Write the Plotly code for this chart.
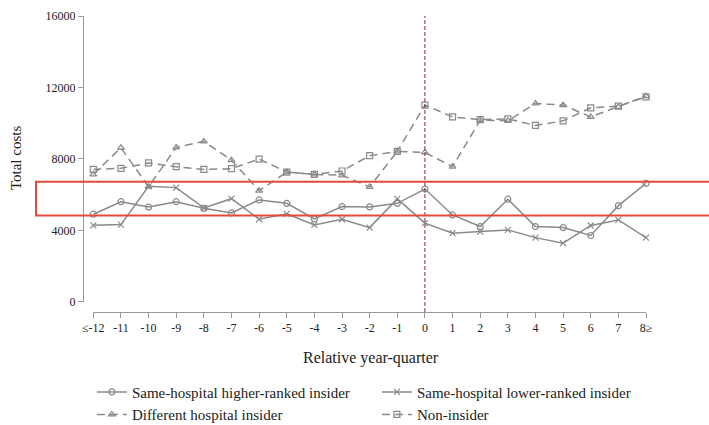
import plotly.graph_objects as go

# ---- data ----
quarters = list(range(-12, 9))
tick_labels = ["≤-12", "-11", "-10", "-9", "-8", "-7", "-6", "-5", "-4", "-3", "-2", "-1",
               "0", "1", "2", "3", "4", "5", "6", "7", "8≥"]

higher_ranked = [4900, 5600, 5300, 5600, 5230, 4970, 5700, 5510, 4640, 5330, 5310, 5510,
                 6310, 4860, 4210, 5740, 4210, 4150, 3710, 5380, 6630]
lower_ranked = [4280, 4320, 6460, 6390, 5250, 5770, 4620, 4920, 4300, 4620, 4150, 5760,
                4400, 3840, 3930, 4020, 3590, 3280, 4270, 4580, 3590]
different_hosp = [7130, 8620, 6440, 8640, 8980, 7930, 6220, 7260, 7130, 7080, 6430, 8420,
                  8360, 7560, 10170, 10130, 11100, 11010, 10350, 10910, 11510]
non_insider = [7410, 7470, 7770, 7560, 7410, 7450, 7990, 7260, 7130, 7320, 8180, 8420,
               11010, 10350, 10200, 10240, 9870, 10130, 10860, 10950, 11470]

y_ticks = [0, 4000, 8000, 12000, 16000]
y_tick_labels = ["0", "4000", "8000", "12000", "16000"]

GRAY = "#8a8a8a"
FONT = "Liberation Serif"
TXT = "#222"

fig = go.Figure()

series = [
    ("Same-hospital higher-ranked insider", higher_ranked, "circle-open", "solid", "legend"),
    ("Different hospital insider", different_hosp, "triangle-up-open", "dash", "legend"),
    ("Same-hospital lower-ranked insider", lower_ranked, "x-thin-open", "solid", "legend2"),
    ("Non-insider", non_insider, "square-open", "dash", "legend2"),
]
for name, vals, sym, dash, lg in series:
    fig.add_trace(go.Scatter(
        x=quarters, y=vals, name=name, mode="lines+markers",
        line=dict(color=GRAY, width=1.5, dash="8px,5px" if dash == "dash" else "solid"),
        marker=dict(symbol=sym, size=6, color=GRAY, line=dict(color=GRAY, width=1.2)),
        cliponaxis=False, legend=lg,
    ))

# vertical reference line at 0
fig.add_shape(type="line", xref="x", yref="paper", x0=0, x1=0, y0=0, y1=1,
              line=dict(color="#9b1b3c", width=1, dash="4px,2px"))

# red highlight rectangle
fig.add_shape(type="rect", xref="paper", yref="paper", x0=-0.0835, x1=1.12,
              y0=0.3257, y1=0.4403, line=dict(color="#e8483a", width=2),
              fillcolor="rgba(0,0,0,0)")

fig.update_layout(
    width=709, height=425,
    margin=dict(l=83, r=63, t=16, b=113, autoexpand=False),
    paper_bgcolor="white", plot_bgcolor="white",
    font=dict(family=FONT, size=12, color=TXT),
    showlegend=True,
    xaxis=dict(domain=[0.0183, 1], anchor="free", position=0, range=[-12, 8],
               tickvals=quarters, ticktext=tick_labels, showline=True, linecolor="#999",
               linewidth=1, ticks="outside", ticklen=5, tickcolor="#999",
               showgrid=False, zeroline=False, automargin=False,
               tickfont=dict(size=12, family=FONT, color=TXT)),
    yaxis=dict(domain=[0.0347, 1], anchor="free", position=0, range=[0, 16000],
               tickvals=y_ticks, ticktext=y_tick_labels, showline=True, linecolor="#999",
               linewidth=1, ticks="outside", ticklen=5, tickcolor="#999", showgrid=False,
               zeroline=False, automargin=False,
               tickfont=dict(size=12, family=FONT, color=TXT)),
    legend=dict(x=0.0158, y=-0.215, xanchor="left", yanchor="top",
                font=dict(size=15, family=FONT, color=TXT), bgcolor="rgba(0,0,0,0)"),
    legend2=dict(x=0.522, y=-0.215, xanchor="left", yanchor="top",
                 font=dict(size=15, family=FONT, color=TXT), bgcolor="rgba(0,0,0,0)"),
    annotations=[
        dict(text="Relative year-quarter", xref="paper", yref="paper", x=0.511, y=-0.154,
             xanchor="center", yanchor="middle", showarrow=False,
             font=dict(size=16, family=FONT, color=TXT)),
        dict(text="Total costs", xref="paper", yref="paper", x=-0.119, y=0.52,
             xanchor="center", yanchor="middle", showarrow=False, textangle=-90,
             font=dict(size=15, family=FONT, color=TXT)),
    ],
)

fig.write_html("out.html", config={"displayModeBar": False},
               post_script="document.body.style.margin='0';")
